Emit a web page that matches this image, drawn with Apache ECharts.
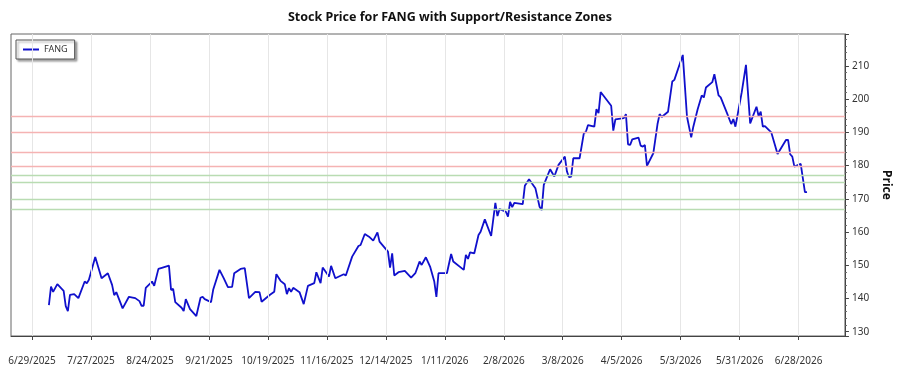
<!DOCTYPE html>
<html>
<head>
<meta charset="utf-8">
<title>Stock Price for FANG</title>
<script src="https://cdn.jsdelivr.net/npm/echarts@6/dist/echarts.min.js"></script>
<style>
  html, body { margin: 0; padding: 0; background: #fff; }
  #chart { width: 900px; height: 375px; }
</style>
</head>
<body>
<div id="chart"></div>
<script>
// trading dates
const dates = [
  '2025-07-07','2025-07-08','2025-07-09','2025-07-11','2025-07-14','2025-07-15','2025-07-16','2025-07-17','2025-07-19','2025-07-21',
  '2025-07-24','2025-07-25','2025-07-26','2025-07-29','2025-08-01','2025-08-04','2025-08-06','2025-08-07','2025-08-08','2025-08-11',
  '2025-08-14','2025-08-17','2025-08-19','2025-08-20','2025-08-21','2025-08-22','2025-08-25','2025-08-26','2025-08-28','2025-08-30',
  '2025-09-02','2025-09-03','2025-09-04','2025-09-05','2025-09-08','2025-09-09','2025-09-10','2025-09-12','2025-09-15','2025-09-17',
  '2025-09-18','2025-09-19','2025-09-22','2025-09-23','2025-09-26','2025-09-28','2025-09-30','2025-10-02','2025-10-03','2025-10-06',
  '2025-10-08','2025-10-10','2025-10-13','2025-10-15','2025-10-16','2025-10-20','2025-10-22','2025-10-23','2025-10-25','2025-10-27',
  '2025-10-28','2025-10-29','2025-10-30','2025-10-31','2025-11-03','2025-11-05','2025-11-07','2025-11-10','2025-11-11','2025-11-13',
  '2025-11-14','2025-11-17','2025-11-18','2025-11-20','2025-11-24','2025-11-25','2025-11-28','2025-12-01','2025-12-02','2025-12-04',
  '2025-12-06','2025-12-08','2025-12-10','2025-12-11','2025-12-13','2025-12-15','2025-12-16','2025-12-17','2025-12-18','2025-12-20',
  '2025-12-23','2025-12-26','2025-12-28','2025-12-30','2025-12-31','2026-01-02','2026-01-04','2026-01-06','2026-01-07','2026-01-08',
  '2026-01-12','2026-01-14','2026-01-15','2026-01-20','2026-01-21','2026-01-22','2026-01-23','2026-01-25','2026-01-27','2026-01-28',
  '2026-01-30','2026-02-02','2026-02-04','2026-02-05','2026-02-06','2026-02-09','2026-02-10','2026-02-11','2026-02-12','2026-02-13',
  '2026-02-17','2026-02-18','2026-02-20','2026-02-23','2026-02-25','2026-02-26','2026-02-27','2026-03-02','2026-03-04','2026-03-06',
  '2026-03-09','2026-03-10','2026-03-11','2026-03-12','2026-03-13','2026-03-16','2026-03-18','2026-03-19','2026-03-20','2026-03-23',
  '2026-03-24','2026-03-25','2026-03-26','2026-03-27','2026-03-31','2026-04-01','2026-04-02','2026-04-06','2026-04-07','2026-04-08',
  '2026-04-09','2026-04-10','2026-04-13','2026-04-14','2026-04-15','2026-04-16','2026-04-17','2026-04-20','2026-04-22','2026-04-23',
  '2026-04-24','2026-04-27','2026-04-29','2026-04-30','2026-05-04','2026-05-06','2026-05-08','2026-05-09','2026-05-11','2026-05-13',
  '2026-05-14','2026-05-15','2026-05-18','2026-05-19','2026-05-21','2026-05-22','2026-05-25','2026-05-27','2026-05-28','2026-05-29',
  '2026-06-01','2026-06-03','2026-06-05','2026-06-08','2026-06-09','2026-06-10','2026-06-11','2026-06-12','2026-06-15','2026-06-18',
  '2026-06-22','2026-06-23','2026-06-24','2026-06-25','2026-06-26','2026-06-29','2026-07-01','2026-07-02'
];

// closing prices
const prices = [
  138.0,143.6,142.0,144.3,142.3,137.7,136.2,141.1,141.3,140.1,
  145.1,144.6,145.6,152.5,146.1,147.6,144.1,141.0,141.9,137.0,
  140.5,140.1,139.2,137.8,137.8,143.2,145.1,143.8,148.9,149.3,
  149.9,142.6,142.9,138.9,137.2,136.2,139.8,136.8,134.7,140.2,
  140.5,139.8,138.9,142.6,148.6,146.1,143.4,143.5,147.6,148.9,
  149.1,140.1,142.0,141.9,139.0,141.1,142.0,147.3,145.3,144.3,
  141.3,143.1,142.0,143.2,141.9,138.3,143.8,144.6,147.9,144.6,
  149.3,146.6,149.8,146.1,147.3,146.9,152.6,155.8,156.1,159.4,
  158.6,157.4,159.9,157.1,155.6,154.1,149.3,153.6,146.9,147.9,
  148.3,146.3,147.6,151.1,150.1,152.4,149.6,145.1,140.5,147.6,
  147.6,153.4,151.1,148.6,153.1,151.9,153.9,153.6,159.1,160.1,
  163.8,158.8,168.8,164.8,166.9,166.1,164.6,169.1,167.5,168.8,
  168.4,173.9,175.9,173.2,167.6,166.6,174.2,178.9,176.7,180.2,
  182.7,178.2,176.5,176.7,182.2,182.2,189.7,190.2,192.2,191.7,
  197.0,195.8,202.1,201.3,198.0,190.5,193.9,194.3,195.5,186.4,
  186.2,187.9,188.4,186.0,185.7,186.2,179.9,183.7,192.5,195.5,
  194.6,196.2,205.3,205.8,213.3,194.7,188.5,191.7,196.8,201.1,
  200.5,203.5,205.1,207.5,201.1,200.5,195.8,192.5,194.0,191.7,
  202.1,210.3,192.7,197.7,194.9,196.2,191.7,191.9,190.0,183.5,
  187.7,187.7,183.4,182.7,179.7,180.5,172.0,172.0
];

// support / resistance levels
const resistanceLevels = [194.8, 189.9, 183.9, 179.9];
const supportLevels = [177.0, 174.9, 170.0, 166.9];

// x tick labels, every four weeks
const tickDates = [
  '2025-06-29','2025-07-27','2025-08-24','2025-09-21','2025-10-19','2025-11-16','2025-12-14',
  '2026-01-11','2026-02-08','2026-03-08','2026-04-05','2026-05-03','2026-05-31','2026-06-28'
];

// local-time timestamp from yyyy-mm-dd
const toTs = (s) => {
  const [y, m, d] = s.split('-').map(Number);
  return new Date(y, m - 1, d).getTime();
};

const fmtDate = (v) => {
  const d = new Date(v);
  return (d.getMonth() + 1) + '/' + d.getDate() + '/' + d.getFullYear();
};

const tickTs = tickDates.map(toTs);
const seriesData = dates.map((d, i) => [toTs(d), prices[i]]);

const levelLines = [
  ...resistanceLevels.map((v) => ({ yAxis: v, lineStyle: { color: '#f5b3b3' } })),
  ...supportLevels.map((v) => ({ yAxis: v, lineStyle: { color: '#b9dcb2' } })),
];

const FONT = '"Noto Sans", "Open Sans", sans-serif';
const LINE_COLOR = '#1010cc';

const chart = echarts.init(document.getElementById('chart'));

chart.setOption({
  animation: false,
  backgroundColor: '#fff',
  title: {
    text: 'Stock Price for FANG with Support/Resistance Zones',
    left: 'center',
    top: 6,
    textStyle: { fontFamily: FONT, fontSize: 12.5, fontWeight: 'bold', color: '#111' },
  },
  legend: {
    left: 16,
    top: 40,
    orient: 'vertical',
    padding: [5, 7, 5, 7],
    itemWidth: 16,
    itemHeight: 2,
    itemGap: 4,
    backgroundColor: '#fff',
    borderColor: '#555',
    borderWidth: 1,
    borderRadius: 0,
    shadowColor: 'rgba(0,0,0,0.35)',
    shadowBlur: 2,
    shadowOffsetX: 2,
    shadowOffsetY: 2,
    textStyle: { fontFamily: FONT, fontSize: 9, color: '#333' },
    data: [{ name: 'FANG', icon: 'rect', itemStyle: { color: LINE_COLOR } }],
  },
  grid: {
    left: 11,
    right: 41,
    top: 34,
    bottom: 39,
    show: true,
    borderColor: '#666',
    borderWidth: 1,
  },
  xAxis: {
    type: 'value',
    min: toTs('2025-06-19'),
    max: toTs('2026-07-20'),
    axisLine: { lineStyle: { color: '#444' } },
    axisTick: { show: true, customValues: tickTs, length: 4, lineStyle: { color: '#444' } },
    axisLabel: {
      customValues: tickTs,
      formatter: (v) => fmtDate(v),
      margin: 20,
      fontFamily: FONT,
      fontSize: 10,
      color: '#333',
      hideOverlap: false,
    },
    splitLine: { show: false },
  },
  yAxis: {
    type: 'value',
    position: 'right',
    min: 128.7,
    max: 219.6,
    splitNumber: 9,
    name: 'Price',
    nameLocation: 'middle',
    nameRotate: -90,
    nameGap: 27,
    nameTextStyle: { fontFamily: FONT, fontSize: 12, fontWeight: 'bold', color: '#111' },
    axisLine: { show: true, lineStyle: { color: '#444' } },
    axisTick: { show: true, length: 4, lineStyle: { color: '#444' } },
    minorTick: { show: true, splitNumber: 5, length: 2, lineStyle: { color: '#666' } },
    axisLabel: {
      showMinLabel: false,
      showMaxLabel: false,
      margin: 7,
      fontFamily: FONT,
      fontSize: 10,
      color: '#333',
      formatter: (v) => (Number.isInteger(v) ? String(v) : ''),
    },
    splitLine: { show: false },
  },
  series: [
    {
      // vertical grid lines at the date ticks
      type: 'line',
      silent: true,
      data: [],
      markLine: {
        silent: true,
        symbol: 'none',
        label: { show: false },
        lineStyle: { color: '#e6e6e6', width: 1, type: 'solid' },
        data: tickTs.map((t) => ({ xAxis: t })),
      },
    },
    {
      name: 'FANG',
      type: 'line',
      data: seriesData,
      showSymbol: false,
      symbol: 'none',
      lineStyle: { color: LINE_COLOR, width: 1.8 },
      itemStyle: { color: LINE_COLOR },
      markLine: {
        silent: true,
        symbol: 'none',
        label: { show: false },
        lineStyle: { width: 1.3, type: 'solid' },
        data: levelLines,
      },
      z: 3,
    },
  ],
});
</script>
</body>
</html>
